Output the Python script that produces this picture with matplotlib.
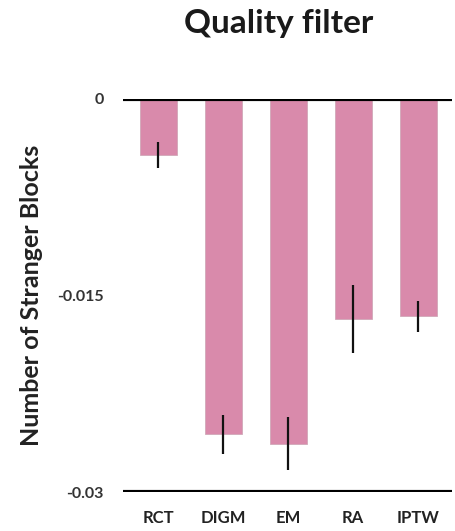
import matplotlib.pyplot as plt

# Estimates and errors per method
methods = ['RCT', 'DIGM', 'EM', 'RA', 'IPTW']
estimates = [-0.0043, -0.0256, -0.0263, -0.0168, -0.0166]
errors = [0.0010, 0.0015, 0.0020, 0.0026, 0.0012]
y_ticks = [0, -0.015, -0.03]
y_tick_labels = ['0', '-0.015', '-0.03']

plt.rcParams['font.family'] = ['Lato', 'DejaVu Sans']

fig = plt.figure(figsize=(4.56, 5.31), dpi=100)
ax = fig.add_axes([0.2697, 0.0734, 0.7215, 0.7402])

x = range(len(methods))
ax.bar(x, estimates, width=0.57, color='#d98aab', edgecolor='#d0a8b8', linewidth=0.6, zorder=2)
ax.errorbar(x, estimates, yerr=errors, fmt='none', ecolor='#111111', elinewidth=1.6, capsize=0, zorder=3)

# thick reference lines at the top and bottom of the range
ax.axhline(0, color='black', linewidth=3, zorder=4)
ax.axhline(-0.03, color='black', linewidth=3, zorder=4)

ax.set_xlim(-0.54, 4.52)
ax.set_ylim(-0.03, 0)
for s in ax.spines.values():
    s.set_visible(False)

ax.set_xticks(list(x))
ax.set_xticklabels(methods, fontsize=12, fontweight='bold', color='#222222')
ax.set_yticks(y_ticks)
ax.set_yticklabels(y_tick_labels, fontsize=11.5, fontweight='bold', color='#333333')
ax.tick_params(axis='both', length=0)
ax.tick_params(axis='x', pad=13)
ax.tick_params(axis='y', pad=14)

ax.set_ylabel('Number of Stranger Blocks', fontsize=18, fontweight='bold', color='#222222', labelpad=10)
fig.text(0.612, 0.956, 'Quality filter', ha='center', va='center', fontsize=24, fontweight='bold', color='#1a1a1a')

fig.savefig('out.png', dpi=100)
